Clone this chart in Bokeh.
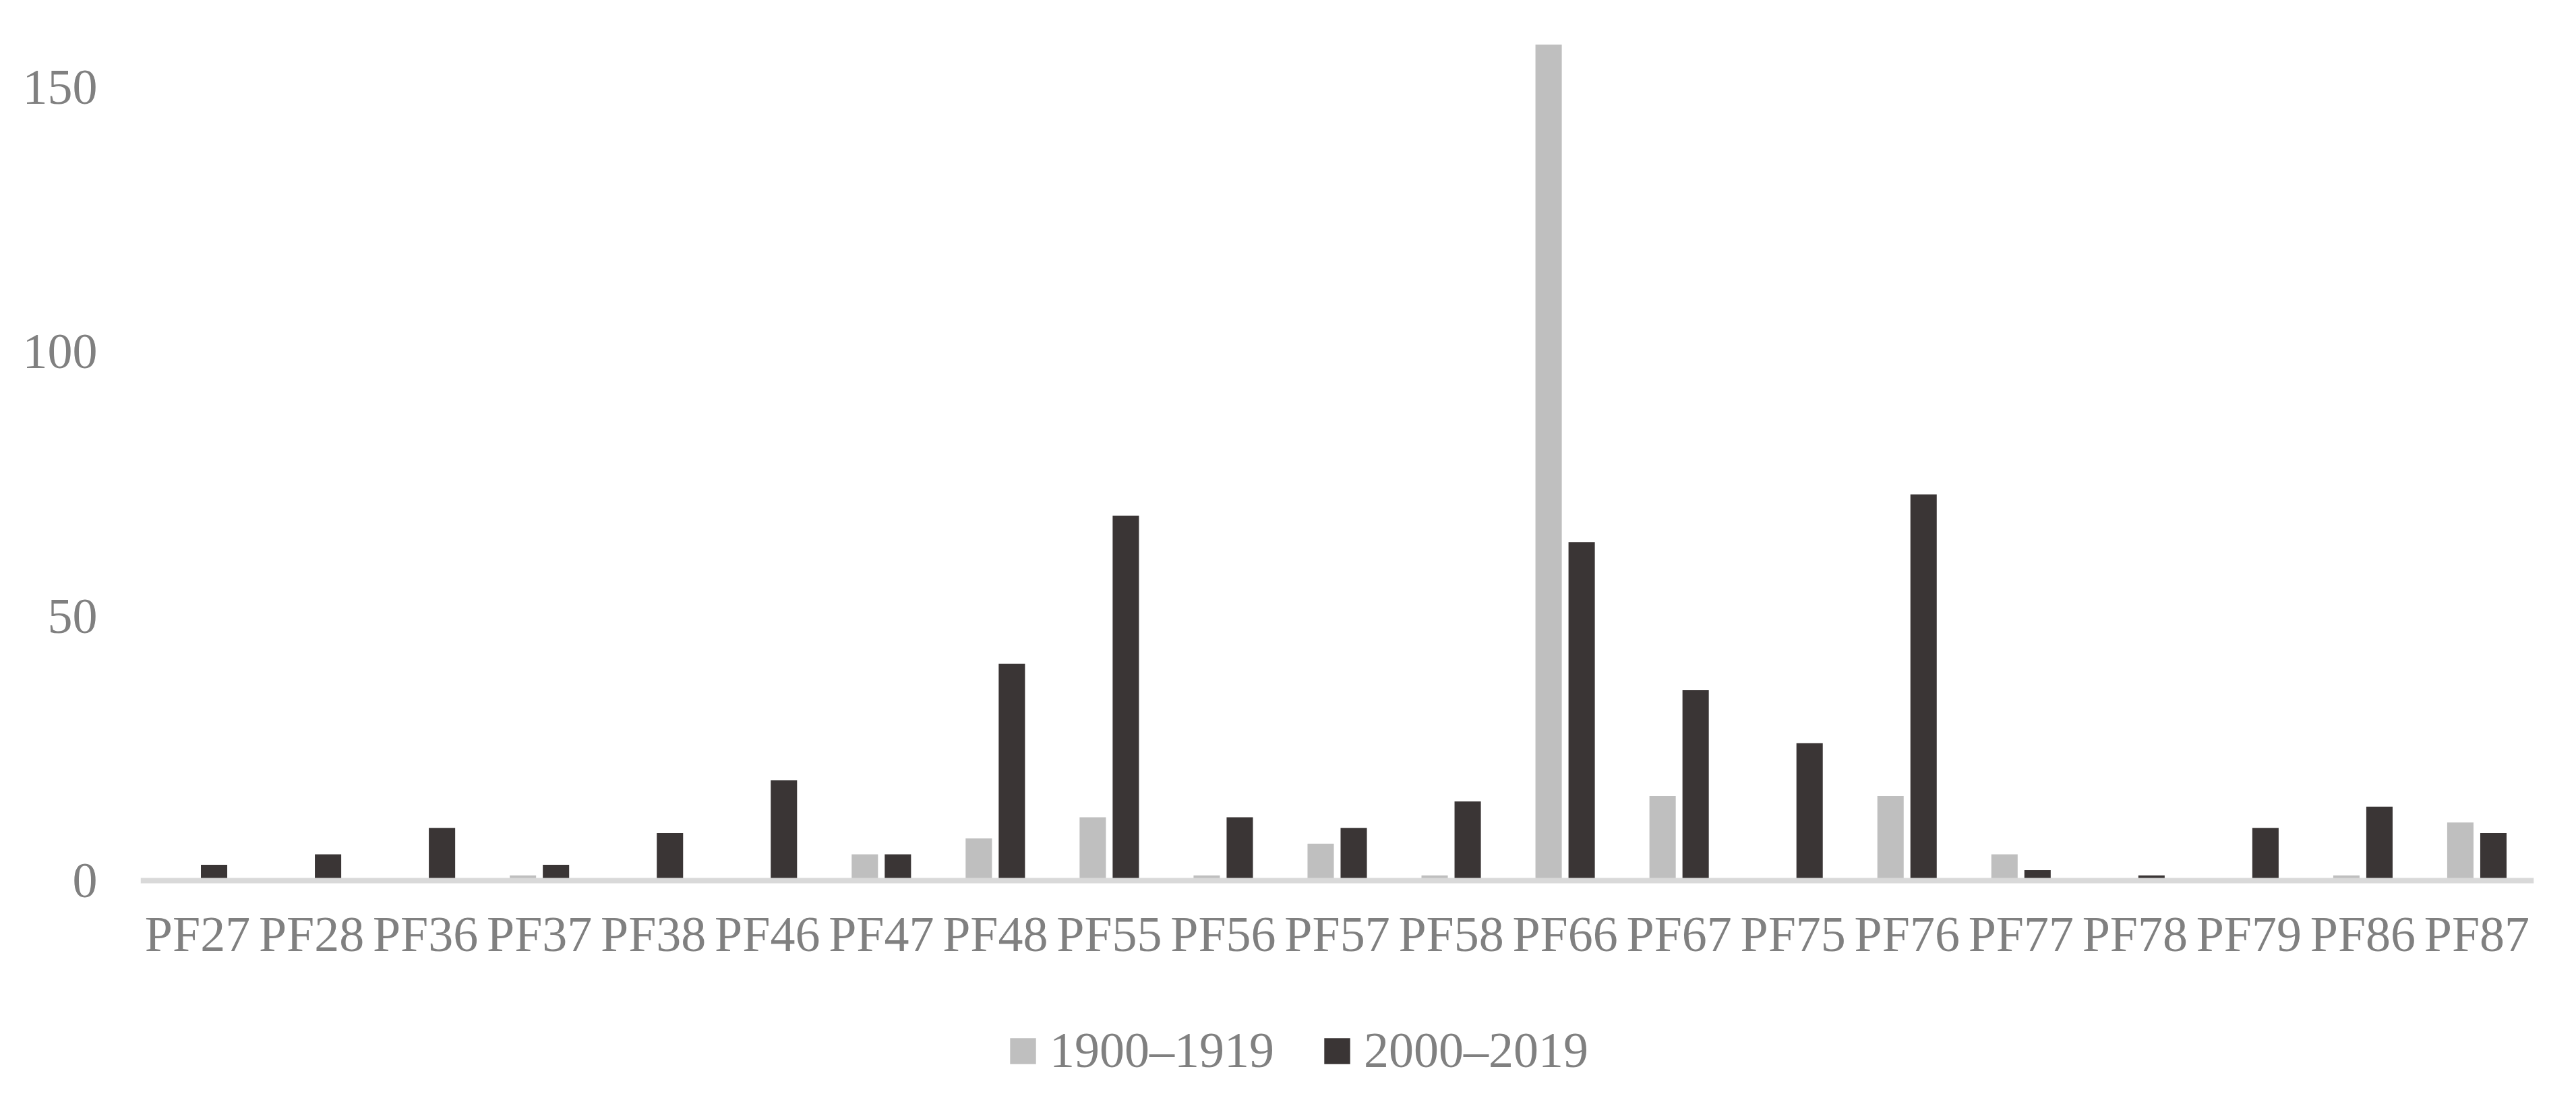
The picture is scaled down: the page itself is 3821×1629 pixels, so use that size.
from bokeh.plotting import figure
from bokeh.models import (ColumnDataSource, FactorRange, FixedTicker, Legend, LegendItem, Range1d)
from bokeh.transform import dodge
from bokeh.embed import file_html
from bokeh.resources import INLINE

categories = ["PF27", "PF28", "PF36", "PF37", "PF38", "PF46", "PF47", "PF48", "PF55", "PF56",
              "PF57", "PF58", "PF66", "PF67", "PF75", "PF76", "PF77", "PF78", "PF79", "PF86", "PF87"]
series_names = ["1900\u20131919", "2000\u20132019"]
v1900 = [0, 0, 0, 1, 0, 0, 5, 8, 12, 1, 7, 1, 158, 16, 0, 16, 5, 0, 0, 1, 11]
v2000 = [3, 5, 10, 3, 9, 19, 5, 41, 69, 12, 10, 15, 64, 36, 26, 73, 2, 1, 10, 14, 9]
y_ticks = [0, 50, 100, 150]

FONT = "Liberation Serif"
TEXT_COLOR = "#808080"
LIGHT = "#bfbfbf"
DARK = "#3a3535"

src = ColumnDataSource(dict(cat=categories, a=v1900, b=v2000))

# frame spans from top of value axis down to the legend row; the category axis sits at y = 0
p = figure(width=3821, height=1629, output_backend="svg", toolbar_location=None,
           x_range=FactorRange(factors=categories, range_padding=0),
           y_range=Range1d(-40.1, 160),
           min_border_left=208, min_border_right=63, min_border_top=50, min_border_bottom=8)

r1 = p.vbar(x=dodge("cat", -0.145, range=p.x_range), top="a", width=0.231, bottom=0,
            source=src, fill_color=LIGHT, line_color=None)
r2 = p.vbar(x=dodge("cat", 0.145, range=p.x_range), top="b", width=0.231, bottom=0,
            source=src, fill_color=DARK, line_color=None)

legend = Legend(items=[LegendItem(label=series_names[0], renderers=[r1]),
                       LegendItem(label=series_names[1], renderers=[r2])],
                orientation="horizontal", location=(1285, 20),
                glyph_width=48, glyph_height=48, label_height=48, label_standoff=16, spacing=69,
                padding=0, margin=0, border_line_color=None, background_fill_alpha=0,
                label_text_font=FONT, label_text_font_size="74px", label_text_color=TEXT_COLOR,
                label_text_line_height=0.4)
p.add_layout(legend)

p.xgrid.visible = False
p.ygrid.visible = False
p.outline_line_color = None

xa = p.xaxis[0]
xa.fixed_location = 0
xa.axis_line_color = "#d9d9d9"
xa.axis_line_width = 8
xa.major_tick_line_color = None
xa.minor_tick_line_color = None
xa.major_tick_out = 0
xa.major_tick_in = 0
xa.major_label_standoff = 38
xa.major_label_text_font = FONT
xa.major_label_text_font_size = "74px"
xa.major_label_text_color = TEXT_COLOR

ya = p.yaxis[0]
ya.ticker = FixedTicker(ticks=y_ticks)
ya.axis_line_color = None
ya.major_tick_line_color = None
ya.minor_tick_line_color = None
ya.major_tick_out = 0
ya.major_tick_in = 0
ya.major_label_standoff = 64
ya.major_label_text_font = FONT
ya.major_label_text_font_size = "74px"
ya.major_label_text_color = TEXT_COLOR

open("out.html", "w").write(file_html(p, INLINE))
